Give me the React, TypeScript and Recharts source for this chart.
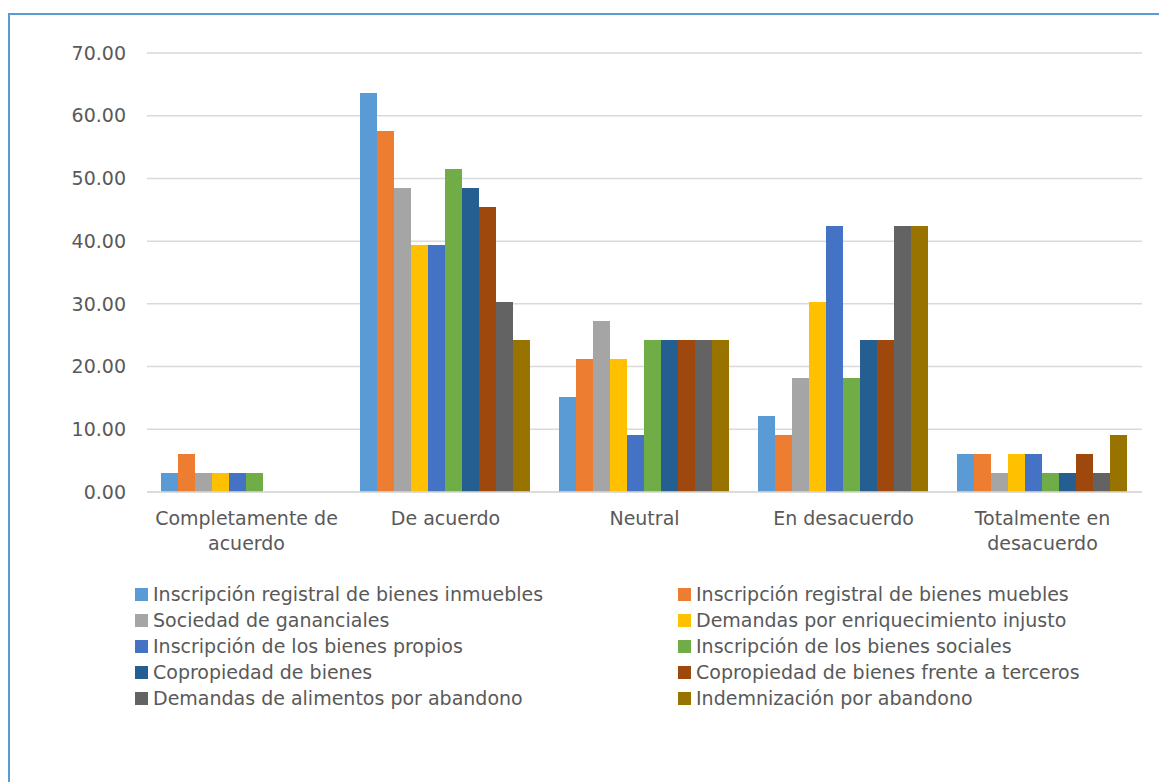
import { Bar, BarChart, CartesianGrid, Legend, Text, XAxis, YAxis } from "recharts";

const categories = [
  "Completamente de acuerdo",
  "De acuerdo",
  "Neutral",
  "En desacuerdo",
  "Totalmente en desacuerdo",
];

const seriesNames = [
  "Inscripción registral de bienes inmuebles",
  "Inscripción registral de bienes muebles",
  "Sociedad de gananciales",
  "Demandas por enriquecimiento injusto",
  "Inscripción de los bienes propios",
  "Inscripción de los bienes sociales",
  "Copropiedad de bienes",
  "Copropiedad de bienes frente a terceros",
  "Demandas de alimentos por abandono",
  "Indemnización por abandono",
];

// one array per series, values per category
const inmuebles = [3.03, 63.64, 15.15, 12.12, 6.06];
const muebles = [6.06, 57.58, 21.21, 9.09, 6.06];
const gananciales = [3.03, 48.48, 27.27, 18.18, 3.03];
const enriquecimiento = [3.03, 39.39, 21.21, 30.3, 6.06];
const propios = [3.03, 39.39, 9.09, 42.42, 6.06];
const sociales = [3.03, 51.52, 24.24, 18.18, 3.03];
const copropiedad = [0, 48.48, 24.24, 24.24, 3.03];
const terceros = [0, 45.45, 24.24, 24.24, 6.06];
const alimentos = [0, 30.3, 24.24, 42.42, 3.03];
const indemnizacion = [0, 24.24, 24.24, 42.42, 9.09];

const yTicks = [0, 10, 20, 30, 40, 50, 60, 70];

const colors = [
  "#5B9BD5",
  "#ED7D31",
  "#A5A5A5",
  "#FFC000",
  "#4472C4",
  "#70AD47",
  "#255E91",
  "#9E480E",
  "#636363",
  "#997300",
];

const seriesValues = [
  inmuebles,
  muebles,
  gananciales,
  enriquecimiento,
  propios,
  sociales,
  copropiedad,
  terceros,
  alimentos,
  indemnizacion,
];

const chartData = categories.map((name, i) => {
  const row: Record<string, string | number> = { name };
  seriesNames.forEach((s, k) => {
    row[s] = seriesValues[k][i];
  });
  return row;
});

const FONT = "'DejaVu Sans', sans-serif";
const TEXT_COLOR = "#595959";

const CategoryTick = ({ x, y, payload }: any) => (
  <Text
    x={x}
    y={y}
    width={190}
    textAnchor="middle"
    verticalAnchor="start"
    lineHeight={25}
    fontSize={19}
    fontFamily={FONT}
    fill={TEXT_COLOR}
    style={{ fontSize: 19, fontFamily: FONT }}
  >
    {payload.value}
  </Text>
);

// legend keeps the series order (two columns, row by row)
const CustomLegend = () => (
  <div
    style={{
      display: "grid",
      gridTemplateColumns: "543px 480px",
      paddingLeft: 125,
      height: 130,
      fontFamily: FONT,
      fontSize: 19,
      color: TEXT_COLOR,
    }}
  >
    {seriesNames.map((name, i) => (
      <div
        key={name}
        style={{ display: "flex", alignItems: "center", gap: 5, height: 26, whiteSpace: "nowrap" }}
      >
        <div style={{ width: 13, height: 13, backgroundColor: colors[i], flexShrink: 0 }} />
        <span>{name}</span>
      </div>
    ))}
  </div>
);

export default function App() {
  return (
    <div
      style={{
        marginTop: 5,
        width: 1159,
        height: 780,
        borderTop: "2px solid #5B9BD5",
        borderLeft: "2px solid #5B9BD5",
        boxSizing: "border-box",
        background: "#fff",
      }}
    >
      <BarChart
        width={1155}
        height={770}
        data={chartData}
        margin={{ top: 38, right: 23, left: 0, bottom: 74 }}
        barCategoryGap={14}
        barGap={0}
      >
        <CartesianGrid vertical={false} stroke="#D9D9D9" strokeWidth={1.5} />
        <XAxis
          dataKey="name"
          height={89}
          tick={<CategoryTick />}
          tickLine={false}
          tickSize={0}
          tickMargin={20}
          axisLine={{ stroke: "#D9D9D9", strokeWidth: 1.5 }}
          interval={0}
        />
        <YAxis
          width={137}
          domain={[0, 70]}
          ticks={yTicks}
          tickFormatter={(v: number) => v.toFixed(2)}
          axisLine={false}
          tickLine={false}
          tickSize={0}
          tickMargin={21}
          tick={{ fontSize: 19, fontFamily: FONT, fill: TEXT_COLOR }}
        />
        <Legend
          content={CustomLegend}
          verticalAlign="bottom"
          wrapperStyle={{ left: 0, width: 1155 }}
        />
        {seriesNames.map((key, index) => (
          <Bar
            key={key}
            dataKey={key}
            name={key}
            fill={colors[index]}
            isAnimationActive={false}
          />
        ))}
      </BarChart>
    </div>
  );
}
